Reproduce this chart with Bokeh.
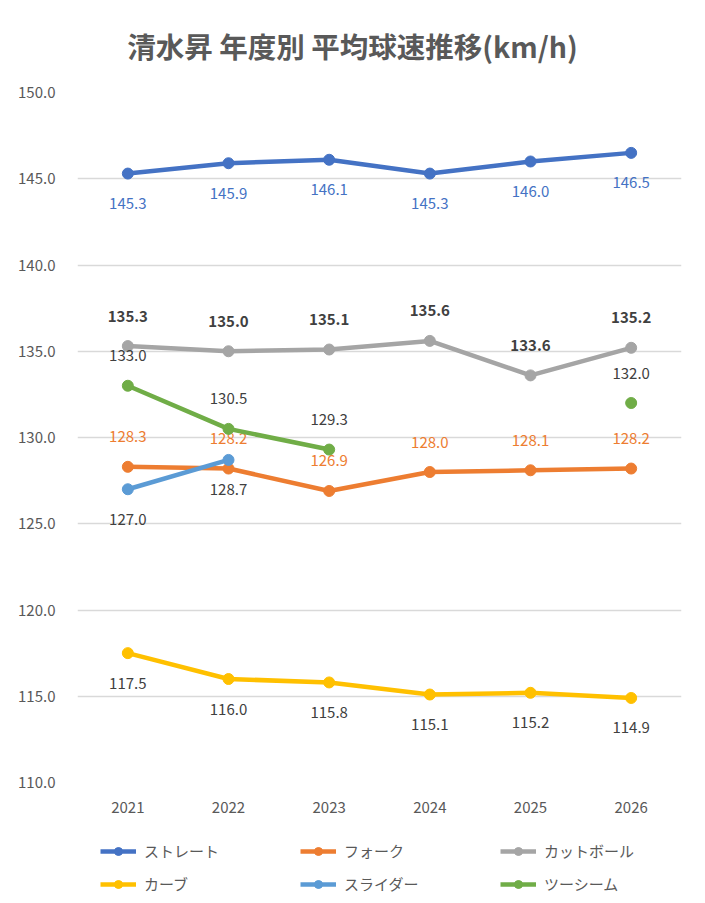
import math
from bokeh.plotting import figure
from bokeh.layouts import column
from bokeh.models import (FactorRange, Range1d, FixedTicker, NumeralTickFormatter,
                          Legend, LegendItem, ColumnDataSource)
from bokeh.core.properties import value
from bokeh.embed import file_html
from bokeh.resources import INLINE

years = ["2021", "2022", "2023", "2024", "2025", "2026"]
nan = float("nan")
straight = [145.3, 145.9, 146.1, 145.3, 146.0, 146.5]
fork = [128.3, 128.2, 126.9, 128.0, 128.1, 128.2]
cutball = [135.3, 135.0, 135.1, 135.6, 133.6, 135.2]
curve = [117.5, 116.0, 115.8, 115.1, 115.2, 114.9]
slider = [127.0, 128.7, nan, nan, nan, nan]
twoseam = [133.0, 130.5, 129.3, nan, nan, 132.0]
y_ticks = [110, 115, 120, 125, 130, 135, 140, 145, 150]
title_text = "清水昇 年度別 平均球速推移(km/h)"

FONT = "Noto Sans CJK JP"
W = 689
FL, FR = 77, 681  # frame left/right (column aligns the strips' frames)

series = [
    ("ストレート", straight, "#4472C4", "#4472C4", "normal", 1),
    ("フォーク", fork, "#ED7D31", "#ED7D31", "normal", -1),
    ("カットボール", cutball, "#A5A5A5", "#404040", "bold", -1),
    ("カーブ", curve, "#FFC000", "#404040", "normal", 1),
    ("スライダー", slider, "#5B9BD5", "#404040", "normal", 1),
    ("ツーシーム", twoseam, "#70AD47", "#404040", "normal", -1),
]


def blank(height, xr, yr):
    f = figure(width=W, height=height, x_range=xr, y_range=yr,
               x_axis_location=None, y_axis_location=None,
               output_backend="svg", toolbar_location=None,
               min_border_left=0, min_border_right=0, min_border_top=0,
               min_border_bottom=0)
    f.grid.visible = False
    f.outline_line_color = None
    return f


# title strip
TH = 80
tf = blank(TH, Range1d(FL, FR), Range1d(0, TH))
tf.text(x=[352], y=[TH - 45], text=[title_text], text_font=value(FONT),
        text_font_size="28.5px", text_font_style="bold", text_color="#595959",
        text_align="center", text_baseline="middle")

# main chart
p = figure(width=W, height=738, x_range=FactorRange(*years, range_padding=0),
           y_range=Range1d(110, 150), output_backend="svg", toolbar_location=None,
           min_border_left=FL, min_border_right=W - FR, min_border_top=12,
           min_border_bottom=36)
p.outline_line_color = None
p.xgrid.grid_line_color = None
p.ygrid.grid_line_color = "#D9D9D9"
p.ygrid.grid_line_width = 1.5
p.yaxis.ticker = FixedTicker(ticks=y_ticks)
p.yaxis.formatter = NumeralTickFormatter(format="0.0")
for ax in (p.xaxis, p.yaxis):
    ax.axis_line_color = None
    ax.major_tick_line_color = None
    ax.minor_tick_line_color = None
    ax.major_label_text_font = FONT
    ax.major_label_text_font_size = "15px"
    ax.major_label_text_color = "#595959"
p.yaxis.major_label_standoff = 16
p.xaxis.major_label_standoff = 13

# legend strip
lf = blank(77, Range1d(0, 1), Range1d(0, 1))

items = []
for name, vals, col, lcol, lstyle, side in series:
    src = ColumnDataSource(dict(x=years, y=vals))
    p.line("x", "y", source=src, line_color=col, line_width=4.5)
    p.scatter("x", "y", source=src, size=11, fill_color=col, line_color=col)
    lx = [x for x, v in zip(years, vals) if not math.isnan(v)]
    ly = [v for v in vals if not math.isnan(v)]
    lt = [f"{v:.1f}" for v in ly]
    p.text(x=lx, y=ly, text=lt, text_font=value(FONT), text_font_size="15px",
           text_color=lcol, text_font_style=lstyle, text_align="center",
           text_baseline="middle", y_offset=30 * side)
    # proxy renderers (outside the strip's range) only for the legend swatches
    proxy = ColumnDataSource(dict(x=[-5], y=[-5]))
    d1 = lf.line("x", "y", source=proxy, line_color=col, line_width=4.5)
    d2 = lf.scatter("x", "y", source=proxy, size=11, fill_color=col, line_color=col)
    items.append(LegendItem(label=name, renderers=[d1, d2]))

legend = Legend(items=items, orientation="horizontal", ncols=3,
                location=(100 - FL, 1), glyph_width=36, glyph_height=20,
                label_standoff=8, label_width=144, spacing=12,
                padding=0, margin=0, border_line_color=None,
                background_fill_alpha=0, label_text_font=FONT,
                label_text_font_size="15px", label_text_color="#595959",
                label_height=20)
lf.add_layout(legend, "center")

layout = column(tf, p, lf, spacing=0)
open("out.html", "w").write(file_html(layout, INLINE))
